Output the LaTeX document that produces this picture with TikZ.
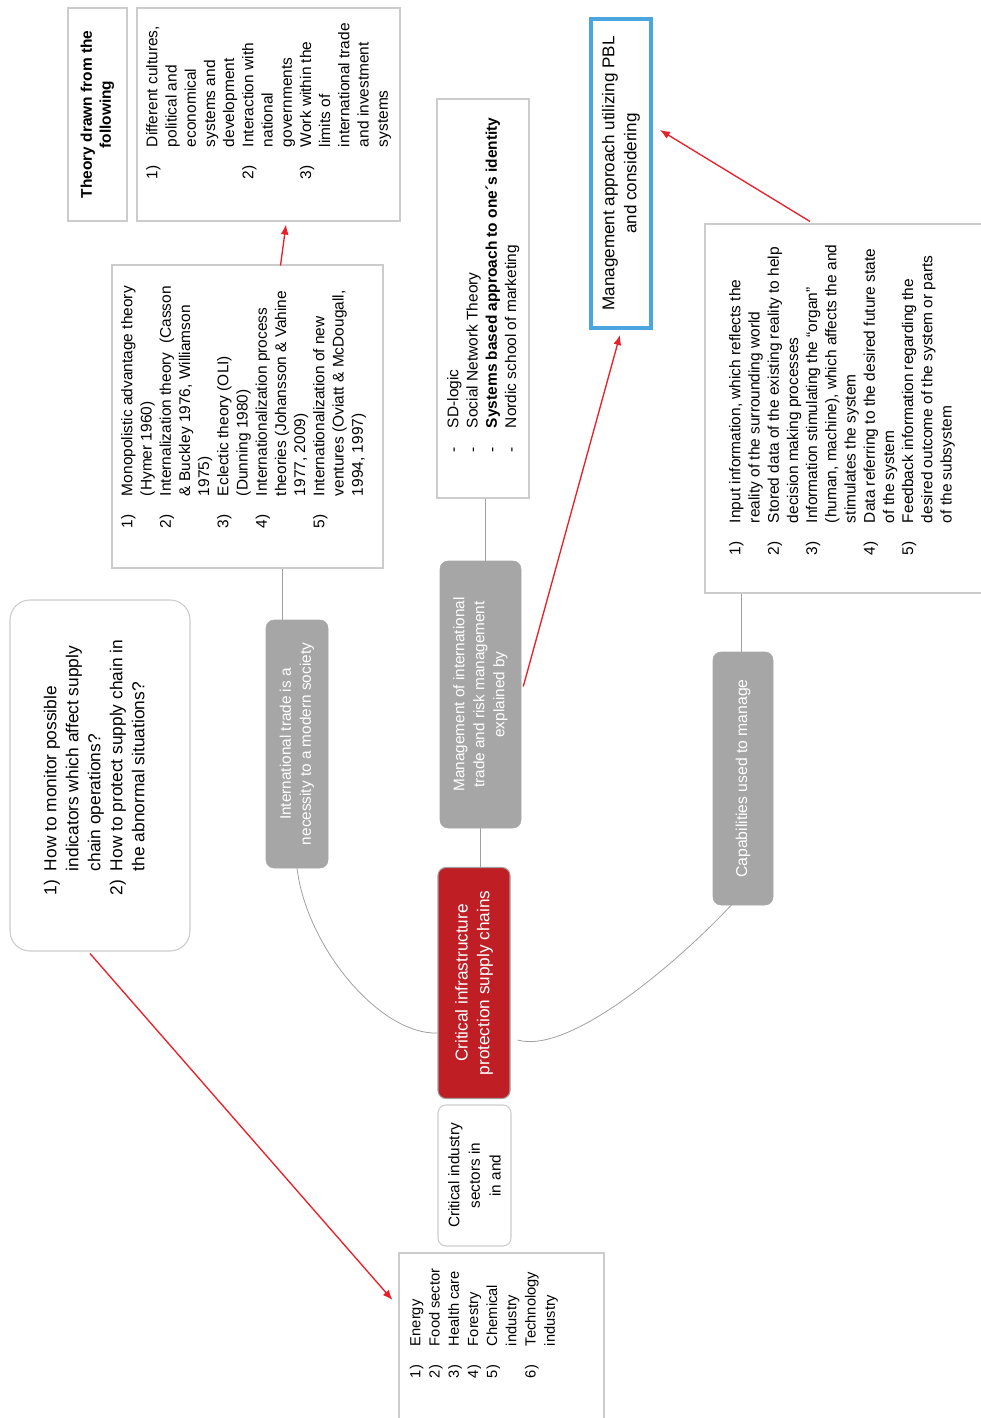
\documentclass[tikz,border=0pt]{standalone}
\usepackage{fontspec}
\setmainfont{Liberation Sans}
\usetikzlibrary{positioning, arrows.meta, calc}

\newlength{\px}\setlength{\px}{0.75pt}
\definecolor{cipred}{RGB}{190,30,36}
\definecolor{topicgray}{RGB}{166,166,166}
\definecolor{linegray}{RGB}{160,160,160}
\definecolor{boxgray}{RGB}{204,204,204}
\definecolor{arrowred}{RGB}{232,32,40}
\definecolor{pblblue}{RGB}{75,166,224}

% fixed size text area: width, height, left gap, top gap, content
\newcommand{\textpanel}[5]{\begin{minipage}[c][#2\px][t]{#1\px}\vspace*{#4\px}\hspace*{#3\px}#5\end{minipage}}
% numbered rows with a hanging second column
\newcommand{\listrows}[2][32]{\begin{tabular}[t]{@{}p{#1\px}@{}l@{}}#2\end{tabular}}

\tikzset{
x=0.75pt, y=-0.75pt, % one unit is one pixel of the page, y runs down
every node/.style={rotate=90, inner sep=0pt}, % the whole map reads upward
panel/.style={draw=boxgray, line width=0.8pt, fill=white, font=\fontsize{11.6}{14.4}\selectfont}, % plain text boxes
topic/.style={fill=topicgray, draw=topicgray, rounded corners=6pt, text=white, align=center, font=\fontsize{11.5}{15}\selectfont}, % grey branches
core/.style={fill=cipred, draw=linegray, line width=0.8pt, rounded corners=6pt, text=white, align=center, font=\fontsize{12.9}{16.3}\selectfont}, % the red centre
link/.style={draw=linegray, line width=0.6pt}, % thin grey connectors
hint/.style={-{Latex[length=7.5pt,width=6pt]}, draw=arrowred, line width=1pt}, % red arrows
}

\begin{document}
\begin{tikzpicture}
    \useasboundingbox (0,0) rectangle (981,1418);
    \clip (0,0) rectangle (981,1418);

    % theory branch
    \node[panel, align=center, font=\fontsize{11.6}{14.2}\selectfont\bfseries, minimum width=213\px, minimum height=59\px] (theorytitle) at (97.5,114.5) {Theory drawn from the\\following};
    \node[panel] (theorylist) at (268.5,114.5) {\textpanel{213}{263}{42}{7}{\listrows{
        1) & Different cultures,\\
           & political and\\
           & economical\\
           & systems and\\
           & development\\
        2) & Interaction with\\
           & national\\
           & governments\\
        3) & Work within the\\
           & limits of\\
           & international trade\\
           & and investment\\
           & systems}}};
    \node[panel] (theories) at (247.5,416.5) {\textpanel{303}{271}{40}{7}{\listrows{
        1) & Monopolistic advantage theory\\
           & (Hymer 1960)\\
        2) & Internalization theory\ \ (Casson\\
           & \& Buckley 1976, Williamson\\
           & 1975)\\
        3) & Eclectic theory (OLI)\\
           & (Dunning 1980)\\
        4) & Internationalization process\\
           & theories (Johansson \& Vahine\\
           & 1977, 2009)\\
        5) & Internationalization of new\\
           & ventures (Oviatt \& McDougall,\\
           & 1994, 1997)}}};
    \node[topic, minimum width=248\px, minimum height=62\px] (intl) at (297,744) {International trade is a\\necessity to a modern society};

    % management branch
    \node[panel] (sdlist) at (483,298.5) {\textpanel{399}{92}{46}{8}{\listrows[24]{
        - & SD-logic\\
        - & Social Network Theory\\
        - & \textbf{Systems based approach to one´s identity}\\
        - & Nordic school of marketing}}};
    \node[topic, minimum width=267\px, minimum height=81\px] (mgmt) at (480.5,694.5) {Management of international\\trade and risk management\\explained by};
    \node[draw=pblblue, line width=3pt, fill=white, align=center, font=\fontsize{12.8}{16.5}\selectfont, minimum width=309\px, minimum height=60\px] (pbl) at (621,173.5) {Management approach utilizing PBL\\and considering};

    % capabilities branch
    \node[panel] (capinfo) at (850,408.5) {\textpanel{369}{290}{38}{22}{\listrows{
        1) & Input information, which reflects the\\
           & reality of the surrounding world\\
        2) & Stored data of the existing reality to help\\
           & decision making processes\\
        3) & Information stimulating the “organ”\\
           & (human, machine), which affects the and\\
           & stimulates the system\\
        4) & Data referring to the desired future state\\
           & of the system\\
        5) & Feedback information regarding the\\
           & desired outcome of the system or parts\\
           & of the subsystem}}};
    \node[topic, font=\fontsize{11.8}{15}\selectfont, minimum width=253\px, minimum height=60\px] (capab) at (743,778.5) {Capabilities used to manage};

    % centre and sectors
    \node[core, minimum width=231\px, minimum height=72\px] (core) at (474,983) {Critical infrastructure\\protection supply chains};
    \node[panel, rounded corners=6pt, align=center, font=\fontsize{11.5}{15.4}\selectfont, minimum width=141\px, minimum height=73\px] (sectors) at (474.5,1175.5) {Critical industry\\sectors in\\in and};
    \node[panel, font=\fontsize{11}{14.4}\selectfont] (sectorlist) at (501.5,1339) {\textpanel{172}{205}{47}{8}{\listrows{
        1) & Energy\\
        2) & Food sector\\
        3) & Health care\\
        4) & Forestry\\
        5) & Chemical\\
           & industry\\
        6) & Technology\\
           & industry}}};
    \node[panel, rounded corners=15pt, font=\fontsize{13}{16.5}\selectfont] (questions) at (100,775.5) {\textpanel{351}{180}{56}{31}{\listrows[24]{
        1) & How to monitor possible\\
           & indicators which affect supply\\
           & chain operations?\\
        2) & How to protect supply chain in\\
           & the abnormal situations?}}};

    % grey connectors
    \coordinate (intltop) at ($(intl.east)+(-15,0)$);
    \coordinate (mgmttop) at ($(mgmt.east)+(5,0)$);
    \coordinate (capabtop) at ($(capab.east)+(-2,0)$);
    \draw[link] (intltop) -- (intltop |- theories.west)
        (mgmttop) -- (mgmttop |- sdlist.west)
        (mgmt.west) -- (mgmt.west |- core.east)
        (capabtop) -- (capabtop |- capinfo.west);
    \draw[link] (intl.west) .. controls +(10,80) and +(-57,2) .. ($(core.north)+(0,50)$);
    \draw[link] ($(capab.west)+(-10,-2)$) .. controls +(-53,57) and +(53,15) .. ($(core.south)+(7,57)$);

    % red arrows
    \draw[hint] ($(theories.east)+(33,1)$) -- ($(theorylist.west)+(17.5,3)$);
    \draw[hint] ($(mgmt.south)+(2,-8)$) -- ($(pbl.west)+(-1,5)$);
    \draw[hint] ($(capinfo.east)+(-40,-2)$) -- ($(pbl.south)+(7,-43.5)$);
    \draw[hint] ($(questions.west)+(-10,2)$) -- ($(sectorlist.north)+(-6,-39)$);
\end{tikzpicture}
\end{document}
